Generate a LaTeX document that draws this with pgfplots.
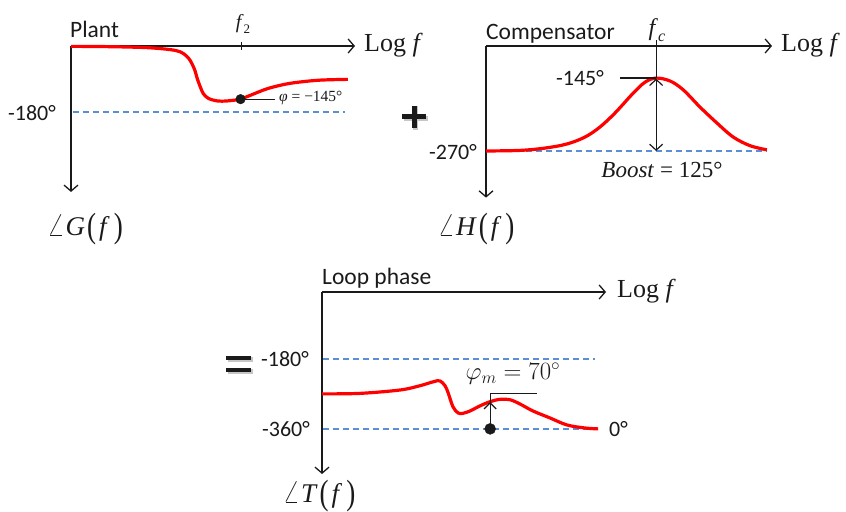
\documentclass[border=0pt]{standalone}
\usepackage{fontspec}
\setmainfont{Liberation Serif}
\newfontfamily\labelfont{Carlito}
\usepackage{graphicx}
\usepackage{pgfplots}
\pgfplotsset{compat=1.18}
\usetikzlibrary{arrows.meta}

\definecolor{curvered}{HTML}{FF0000}
\definecolor{refblue}{HTML}{5B8FD5}
\definecolor{ink}{HTML}{1A1A1A}

\newcommand{\sz}[1]{\fontsize{#1bp}{#1bp}\selectfont}
% phase symbol  \angle X( f )  with tall parentheses
\newcommand{\phaseof}[1]{\scalebox{1.3}{$\angle$}\kern1bp\textit{#1}\kern2bp\raisebox{-0.08em}{\scalebox{1}[1.3]{(}}\kern3bp\textit{f}\kern4bp\raisebox{-0.08em}{\scalebox{1}[1.3]{)}}}

\tikzset{
  axarrow/.style={ink, line width=1.3bp, -{Straight Barb[length=6bp,width=14bp]}},
  thinline/.style={ink, line width=1.2bp},
  refline/.style={refblue, line width=1.3bp, dash pattern=on 6bp off 4bp},
  curve/.style={curvered, line width=3.2bp, smooth, tension=0.55},
  sans/.style={ink, font=\labelfont\sz{22}, inner sep=0pt},
  title/.style={ink, font=\labelfont\sz{23.5}, inner sep=0pt},
}
\pgfplotsset{
  phasepanel/.style={hide axis, clip=false, scale only axis,
    x=28.4bp, xmin=0, anchor=north west},
}

\begin{document}
\begin{tikzpicture}[x=1bp,y=1bp]
\path[use as bounding box] (0,0) rectangle (846,512);

% ---------------- Plant phase ----------------
\begin{axis}[phasepanel, at={(71bp,466bp)}, xmax=10, y=0.3667bp, ymin=-400, ymax=0]
  \draw[refline] (0.07,-180) -- (9.65,-180);
  \draw[axarrow] (0,0) -- (10,0);
  \draw[axarrow] (0,0) -- (0,-398);
  \draw[thinline] (5.99,11) -- (5.99,-11);
  \addplot[curve] coordinates {
    (0,-1) (1.02,-1.5) (2.08,-3) (2.79,-5) (3.50,-10) (3.85,-16)
    (4.06,-27) (4.20,-40) (4.35,-64) (4.45,-90) (4.56,-113) (4.66,-130)
    (4.84,-143) (5.16,-150) (5.48,-150) (5.72,-148) (5.97,-145)
    (6.33,-134) (6.93,-116) (7.56,-104) (8.09,-98) (8.80,-93) (9.75,-91)};
  \draw[thinline] (5.97,-145) -- (7.18,-145);
  \addplot[only marks, mark=*, mark size=4.8bp, ink] coordinates {(5.97,-145)};
\end{axis}

% ---------------- Compensator phase ----------------
\begin{axis}[phasepanel, at={(486bp,466bp)}, xmax=10.2, y=0.5833bp, ymin=-352, ymax=-90]
  \draw[refline] (0,-270) -- (9.86,-270);
  \draw[axarrow] (0,-90) -- (10.07,-90);
  \draw[axarrow] (0,-90) -- (0,-350);
  \addplot[curve] coordinates {
    (0,-270) (1.20,-269) (2.08,-265) (2.85,-258) (3.49,-246) (4.01,-229)
    (4.54,-205) (5.18,-171) (5.60,-152) (5.99,-145) (6.48,-150)
    (6.94,-165) (7.54,-195) (8.13,-222) (8.70,-246) (9.30,-261) (9.89,-268)};
  \draw[thinline] (4.72,-145) -- (5.99,-145);
  \draw[thinline] (5.99,-80) -- (5.99,-145);
  \draw[thinline, {Straight Barb[length=6bp,width=13bp]}-{Straight Barb[length=6bp,width=13bp]}] (5.99,-146) -- (5.99,-270);
\end{axis}

% ---------------- Loop phase ----------------
\begin{axis}[phasepanel, at={(322bp,220bp)}, xmax=10, y=0.3889bp, ymin=-480, ymax=-8]
  \draw[refline] (0.04,-180) -- (9.6,-180);
  \draw[refline] (0.04,-360) -- (9.6,-360);
  \draw[axarrow] (0,-8) -- (10,-8);
  \draw[axarrow] (0,-8) -- (0,-476);
  \addplot[curve] coordinates {
    (0,-270) (1.34,-268.7) (2.75,-260) (3.45,-249) (3.91,-239) (4.15,-236.5)
    (4.33,-249) (4.44,-267) (4.61,-303) (4.79,-319) (4.96,-320) (5.21,-314)
    (5.56,-301) (5.92,-290) (6.27,-284) (6.62,-285) (6.97,-296) (7.43,-314)
    (8.03,-332) (8.63,-350) (9.26,-357.7) (9.72,-360)};
  \draw[thinline] (5.92,-270) -- (7.57,-270);
  \draw[thinline, -{Straight Barb[length=6bp,width=12bp]}] (5.92,-360) -- (5.92,-291);
  \draw[thinline] (5.92,-291) -- (5.92,-270);
  \addplot[only marks, mark=*, mark size=5.5bp, ink] coordinates {(5.92,-360)};
\end{axis}

% ---------------- labels ----------------
% plant
\node[title, anchor=base west] at (70,474) {Plant};
\node[sans, anchor=east] at (56,399) {-180°};
\node[ink, anchor=base west, inner sep=0pt, font=\sz{26}] at (364,460) {Log \textit{f}};
\node[ink, inner sep=0pt, font=\sz{20}] at (243,488) {\textit{f}\raisebox{-0.25em}{\sz{13}2}};
\node[ink, anchor=west, inner sep=0pt, font=\sz{15.5}] at (279,414) {\textit{φ} = −145°};
\node[ink, inner sep=0pt, font=\sz{27}] at (85,283) {\phaseof{G}};

% compensator
\node[title, anchor=base west] at (486,472) {Compensator};
\node[ink, inner sep=0pt, font=\sz{24}] at (657,482) {\textit{f}\raisebox{-0.25em}{\sz{16}\textit{c}}};
\node[ink, anchor=base west, inner sep=0pt, font=\sz{26}] at (781,460) {Log \textit{f}};
\node[sans, anchor=east] at (604,434) {-145°};
\node[sans, anchor=east] at (477,360) {-270°};
\node[ink, inner sep=0pt, font=\sz{23}] at (662,342) {\textit{Boost} = 125°};
\node[ink, inner sep=0pt, font=\sz{27}] at (476,283) {\phaseof{H}};

% loop
\node[title, anchor=base west] at (322,227) {Loop phase};
\node[ink, anchor=base west, inner sep=0pt, font=\sz{26}] at (617,214) {Log \textit{f}};
\node[sans, anchor=east] at (309,153) {-180°};
\node[sans, anchor=east] at (310,83) {-360°};
\node[sans, anchor=west] at (609,83) {0°};
\node[ink, inner sep=0pt, font=\sz{27}] at (513,138) {$\varphi_m = 70^\circ$};
\node[ink, inner sep=0pt, font=\sz{27}] at (319,16) {\phaseof{T}};

% plus and equals signs
\begin{scope}[line width=5bp, line cap=butt]
  \draw[gray!45] (404,393.5) -- (428,393.5) (415.5,382) -- (415.5,406);
  \draw[ink] (402,395) -- (426,395) (414,384) -- (414,406);
  \draw[gray!45] (228,152.5) -- (253,152.5) (228,140.5) -- (253,140.5);
  \draw[ink, line width=4.5bp] (226,154) -- (251,154) (226,142) -- (251,142);
\end{scope}
\end{tikzpicture}
\end{document}
